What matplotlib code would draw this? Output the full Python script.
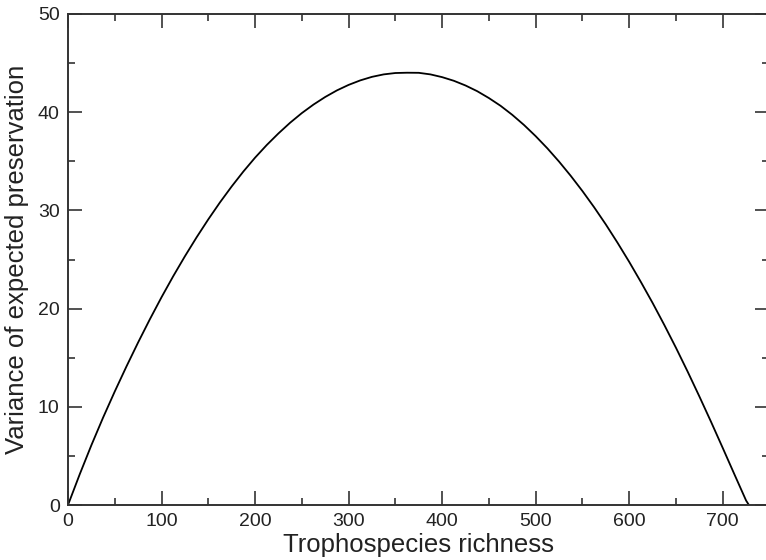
import matplotlib
matplotlib.use("Agg")
import matplotlib.pyplot as plt
from matplotlib.ticker import MultipleLocator

# Data
richness = [0, 12.5, 25, 37.5, 50, 62.5, 75, 87.5, 100, 112.5, 125, 137.5, 150, 162.5,
            175, 187.5, 200, 212.5, 225, 237.5, 250, 262.5, 275, 287.5, 300, 312.5,
            325, 337.5, 350, 362.5, 375, 387.5, 400, 412.5, 425, 437.5, 450, 462.5,
            475, 487.5, 500, 512.5, 525, 537.5, 550, 562.5, 575, 587.5, 600, 612.5,
            625, 637.5, 650, 662.5, 675, 687.5, 700, 712.5, 725, 728]
variance = [0, 3.12, 6.09, 8.90, 11.56, 14.11, 16.56, 18.91, 21.16, 23.30, 25.33, 27.26,
            29.09, 30.82, 32.44, 33.96, 35.37, 36.66, 37.84, 38.93, 39.91, 40.78, 41.55,
            42.22, 42.78, 43.24, 43.60, 43.85, 43.99, 44.02, 44.01, 43.85, 43.57, 43.20,
            42.72, 42.14, 41.44, 40.65, 39.73, 38.70, 37.56, 36.32, 34.97, 33.52, 31.97,
            30.32, 28.57, 26.71, 24.76, 22.71, 20.58, 18.34, 16.01, 13.58, 11.06, 8.47,
            5.81, 3.12, 0.45, 0]

x_ticks = [0, 100, 200, 300, 400, 500, 600, 700]
y_ticks = [0, 10, 20, 30, 40, 50]

plt.rcParams['font.family'] = ['Liberation Sans', 'DejaVu Sans']

fig = plt.figure(figsize=(7.66, 5.60), dpi=100)
ax = fig.add_axes([68 / 766, 1 - 505 / 560, 701.5 / 766, (505 - 14) / 560])

ax.plot(richness, variance, color='black', linewidth=1.3, solid_joinstyle='round')

ax.set_xlim(0, 750)
ax.set_ylim(0, 50)
ax.set_xticks(x_ticks)
ax.set_yticks(y_ticks)
ax.xaxis.set_minor_locator(MultipleLocator(50))
ax.yaxis.set_minor_locator(MultipleLocator(5))

ax.tick_params(which='both', direction='in', top=True, right=True, width=1.2,
               color='#333333', labelsize=14, labelcolor='#222222')
ax.tick_params(which='major', length=10)
ax.tick_params(which='minor', length=5)
ax.tick_params(axis='x', pad=6)
ax.tick_params(axis='y', pad=6)

for s in ax.spines.values():
    s.set_linewidth(1.4)
    s.set_color('#333333')

ax.set_xlabel('Trophospecies richness', fontsize=18.5, color='#222222', labelpad=2)
ax.set_ylabel('Variance of expected preservation', fontsize=18.5, color='#222222', labelpad=6)

fig.savefig('out.png', dpi=100)
